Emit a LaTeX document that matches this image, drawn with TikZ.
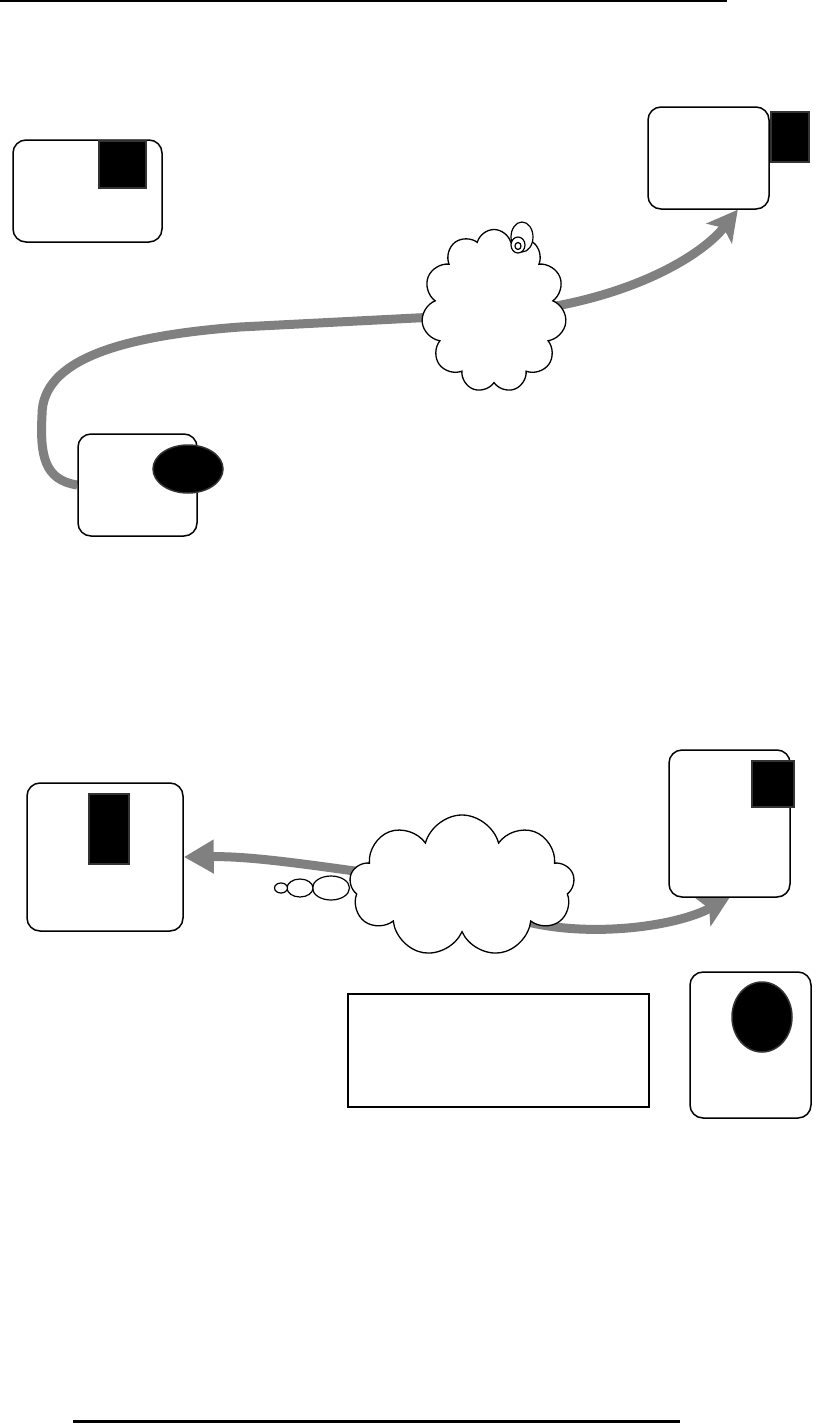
\documentclass[tikz,border=0pt]{standalone}
\usepackage{tikz}
\usetikzlibrary{positioning,arrows.meta,shapes.geometric,shapes.symbols,backgrounds}
\definecolor{flowc}{HTML}{808080}
\definecolor{markc}{HTML}{333333}
\tikzset{
  panel/.style={draw, line width=1.5pt, rounded corners=13pt, fill=white, inner sep=0pt},
  blackmark/.style={draw=markc, fill=black, line width=1.5pt, inner sep=0pt},
  puff/.style={cloud, draw, fill=white, line width=1.3pt, cloud ignores aspect, inner sep=0pt},
  bubble/.style={ellipse, draw, fill=white, line width=1.2pt, inner sep=0pt},
  flow/.style={draw=flowc, line width=9pt, -{Stealth[length=30pt,width=32pt,inset=7pt]}}}
\newcommand{\roundbox}[4]{%
  \node[panel, minimum width=#3, minimum height=#4] (#1) at (#2) {};}

\begin{document}
\begin{tikzpicture}[x=1pt, y=-1pt]
  \useasboundingbox (0,0) rectangle (820,1424);
  \draw[line width=2pt] (0,1) coordinate (ruleAl) -- (727,1) coordinate (ruleAr);
  \draw[line width=3pt] (73,1421) coordinate (ruleBl) -- (680,1421) coordinate (ruleBr);
  \roundbox{tl}{87.5,191}{149pt}{102pt}
  \roundbox{tr}{708.5,158}{121pt}{102pt}
  \roundbox{bl}{137.5,485}{119pt}{102pt}
  \roundbox{lb}{105,857}{156pt}{148pt}
  \roundbox{rt}{729.5,823.5}{121pt}{147pt}
  \roundbox{rb}{750.5,1045}{121pt}{146pt}
  \node[blackmark, minimum width=38pt, minimum height=50pt] (trmark) at (790,137) {};
  \node[blackmark, minimum width=47pt, minimum height=47pt] (tlmark) at (122.5,164.5) {};
  \node[blackmark, ellipse, minimum width=70pt, minimum height=48pt] (blmark) at (188,469) {};
  \node[blackmark, minimum width=40pt, minimum height=70pt] (lbmark) at (109,829) {};
  \node[blackmark, minimum width=42pt, minimum height=46pt] (rtmark) at (773,784) {};
  \node[blackmark, ellipse, minimum width=60pt, minimum height=70pt] (rbmark) at (762,1017) {};
  \node[puff, cloud puffs=11, minimum width=145pt, minimum height=163pt] (cloudA) at (494,311) {};
  \node[bubble, minimum width=22pt, minimum height=30pt] (dotA1) at (522,237) {};
  \node[bubble, minimum width=14pt, minimum height=16pt] (dotA2) at (518,245) {};
  \node[bubble, minimum width=6pt, minimum height=7pt] (dotA3) at (518,246) {};
  \node[puff, cloud puffs=9, minimum width=225pt, minimum height=142pt] (cloudB) at (462,886) {};
  \node[bubble, minimum width=37pt, minimum height=24pt] (dotB1) at (331,888) {};
  \node[bubble, minimum width=26pt, minimum height=18pt] (dotB2) at (300,888) {};
  \node[bubble, minimum width=13pt, minimum height=10pt] (dotB3) at (281,888) {};
  \node[draw, line width=2.5pt, minimum width=301pt, minimum height=113pt] (note) at (498.5,1050.5) {};
  \begin{scope}[on background layer]
    \draw[flow] (bl.west) .. controls (44,480) and (40,455) .. (42,415)
      .. controls (42,360) and (120,336) .. (240,327) -- (494,314)
      .. controls (620,305) and (700,258) .. ([xshift=-32pt]tr.south east);
    \draw[flow, -{Triangle[length=30pt,width=32pt]}] (cloudB.center)
      .. controls (330,868) and (260,856) .. (lb.east);
    \draw[flow] (cloudB.center) .. controls (510,945) and (660,935) .. (rt.south);
  \end{scope}
\end{tikzpicture}
\end{document}
